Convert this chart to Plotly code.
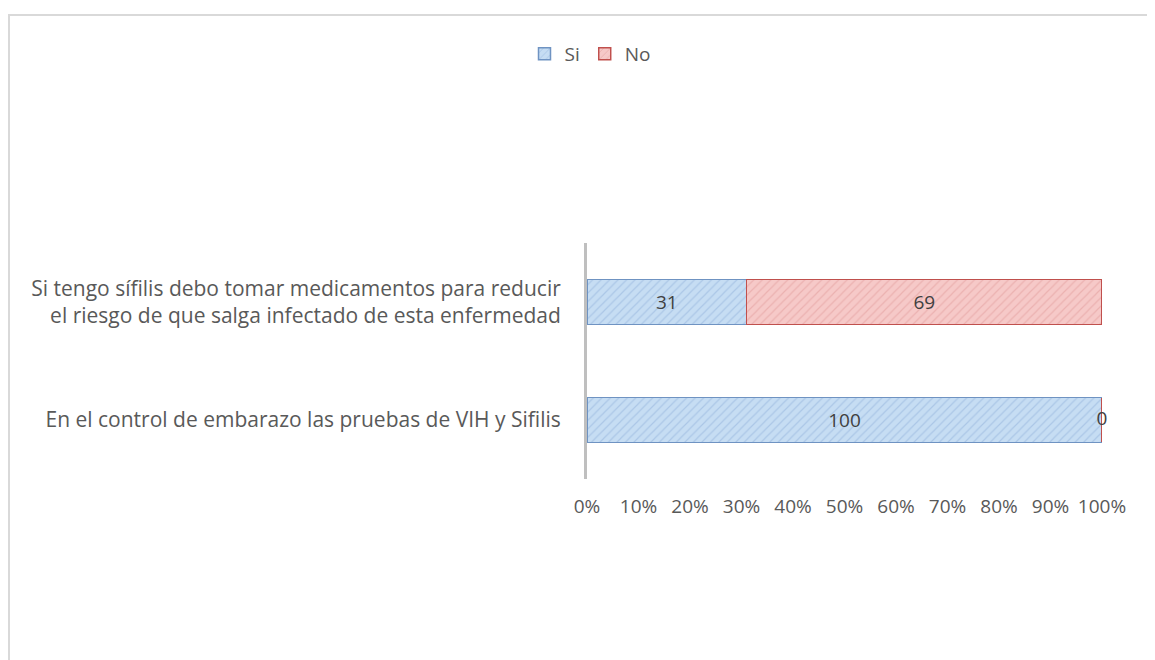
import plotly.graph_objects as go

categories = [
    "En el control de embarazo las pruebas de VIH y Sifilis",
    "Si tengo sífilis debo tomar medicamentos para reducir<br>el riesgo de que salga infectado de esta enfermedad",
]
si_values = [100, 31]
no_values = [0, 69]
tick_vals = [0, 10, 20, 30, 40, 50, 60, 70, 80, 90, 100]
tick_text = ["0%", "10%", "20%", "30%", "40%", "50%", "60%", "70%", "80%", "90%", "100%"]

FONT = "Open Sans"
TXT = "#595959"
FS = 19

fig = go.Figure()
fig.add_trace(go.Bar(
    y=categories, x=si_values, name="Si", orientation="h",
    marker=dict(color="#C6DDF3", line=dict(color="#6F93C2", width=1.5),
                pattern=dict(shape="/", fgcolor="#8FB0DA", size=6, solidity=0.2)),
    text=[str(v) for v in si_values], textposition="inside", insidetextanchor="middle",
    textfont=dict(family=FONT, size=FS, color="#404040"),
))
fig.add_trace(go.Bar(
    y=categories, x=no_values, name="No", orientation="h",
    marker=dict(color="#F6C9C8", line=dict(color="#C0504D", width=1.5),
                pattern=dict(shape="/", fgcolor="#E09A98", size=6, solidity=0.2)),
    text=[str(v) if v > 0 else "" for v in no_values], textposition="inside",
    insidetextanchor="middle",
    textfont=dict(family=FONT, size=FS, color="#404040"),
))
# labels for zero-width segments, placed at the end of the stack
zero_idx = [i for i, v in enumerate(no_values) if v == 0]
fig.add_trace(go.Scatter(
    y=[categories[i] for i in zero_idx],
    x=[si_values[i] + no_values[i] for i in zero_idx],
    text=[str(no_values[i]) for i in zero_idx],
    mode="text", textposition="middle center", showlegend=False, cliponaxis=False,
    textfont=dict(family=FONT, size=FS, color="#404040"), hoverinfo="skip",
))

# page is offset by the default 8px body margin
OFF = 8
W, H = 1155, 660
L, R, T, B = 587 - OFF, W - (1102 - OFF), 243 - OFF, H - (479 - OFF)
pw, ph = W - L - R, H - T - B

def px(x):
    return (x - OFF - L) / pw

def py(y):
    return (H - B - (y - OFF)) / ph

fig.update_layout(
    width=W, height=H,
    barmode="stack", bargap=0.62,
    margin=dict(l=L, r=R, t=T, b=B),
    paper_bgcolor="white", plot_bgcolor="white",
    font=dict(family=FONT, size=FS, color=TXT),
    showlegend=True,
    legend=dict(orientation="h", x=px(590), y=py(54), xanchor="center", yanchor="middle",
                font=dict(family=FONT, size=FS, color=TXT), traceorder="normal",
                itemwidth=30, bgcolor="rgba(0,0,0,0)"),
    xaxis=dict(range=[0, 100], tickvals=tick_vals, ticktext=tick_text, showgrid=False,
               zeroline=False, showline=False, ticks="", ticklabelstandoff=14,
               tickfont=dict(family=FONT, size=FS, color=TXT)),
    yaxis=dict(showgrid=False, zeroline=False, showline=True, linecolor="#BFBFBF", linewidth=3,
               ticks="", ticklabelstandoff=19, tickfont=dict(family=FONT, size=21, color=TXT)),
    shapes=[dict(type="rect", xref="paper", yref="paper",
                 x0=px(9), x1=px(1175), y0=py(690), y1=py(15),
                 line=dict(color="#D9D9D9", width=2), fillcolor="rgba(0,0,0,0)", layer="below")],
)

fig.write_html("out.html")
